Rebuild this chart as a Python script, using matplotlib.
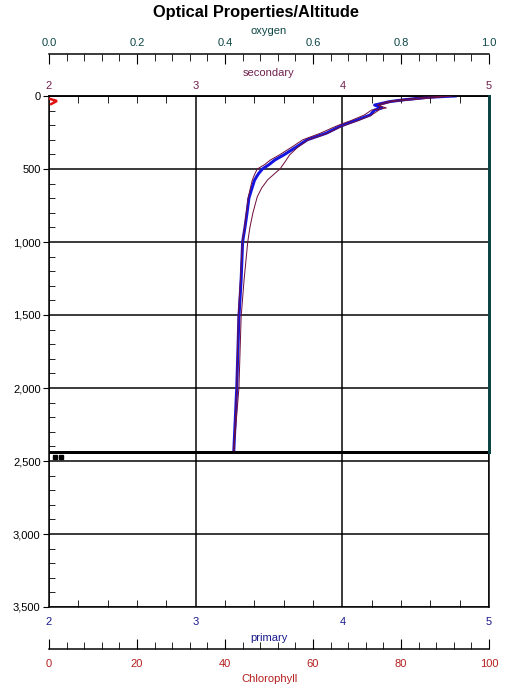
import matplotlib
matplotlib.use("Agg")
import matplotlib.pyplot as plt
from matplotlib.ticker import MultipleLocator, FuncFormatter

plt.rcParams['font.family'] = ['Liberation Sans', 'DejaVu Sans']

# ---------------- data ----------------
primary_depth = [0, 9, 27, 39, 62, 82, 96, 130, 168, 190, 210, 255, 300, 347, 404, 438,
                 470, 500, 530, 553, 580, 644, 700, 802, 900, 1000, 1260, 1513, 2000, 2430]
primary_vals = [4.77, 4.58, 4.41, 4.32, 4.22, 4.27, 4.22, 4.19, 4.09, 4.03, 3.98, 3.89,
                3.76, 3.69, 3.60, 3.54, 3.50, 3.455, 3.43, 3.415, 3.40, 3.38, 3.363,
                3.35, 3.336, 3.32, 3.31, 3.295, 3.28, 3.26]

secondary_down_depth = [0, 9, 27, 39, 62, 82, 96, 130, 168, 190, 210, 255, 300, 347, 404,
                        438, 470, 500, 530, 553, 580, 644, 700, 802, 900, 1000, 1260, 1513,
                        2000, 2430]
secondary_down_vals = [4.72, 4.55, 4.38, 4.30, 4.24, 4.30, 4.20, 4.15, 4.06, 4.00, 3.95,
                       3.85, 3.73, 3.66, 3.57, 3.51, 3.47, 3.42, 3.405, 3.395, 3.385,
                       3.37, 3.358, 3.345, 3.333, 3.318, 3.305, 3.29, 3.28, 3.26]

secondary_up_depth = [2430, 2000, 1513, 1260, 1000, 900, 802, 690, 630, 575, 530, 500,
                      450, 404, 347, 300, 255, 210, 168, 130, 96, 62, 39, 0]
secondary_up_vals = [3.26, 3.295, 3.31, 3.33, 3.355, 3.37, 3.39, 3.42, 3.45, 3.49, 3.54,
                     3.575, 3.61, 3.64, 3.70, 3.77, 3.90, 3.99, 4.11, 4.20, 4.25, 4.26,
                     4.34, 4.75]

chl_depth = [20, 34, 55]
chl_vals = [0.2, 1.8, 0.5]

oxygen_depth = [0, 2438]
oxygen_vals = [1.0, 1.0]

marker_depth = [2475, 2475]
marker_chl = [1.4, 2.8]

bottom_depth = 2438

depth_ticks = [0, 500, 1000, 1500, 2000, 2500, 3000, 3500]
primary_ticks = [2, 3, 4, 5]
oxygen_ticks = [0.0, 0.2, 0.4, 0.6, 0.8, 1.0]
chl_ticks = [0, 20, 40, 60, 80, 100]

# ---------------- colours ----------------
c_oxy = '#0d4545'
c_sec = '#70204f'
c_pri = '#1a1a8c'
c_chl = '#b51f1f'
c_blue = '#1414e0'
c_maroon = '#6e1040'

W, H = 514, 684
fig = plt.figure(figsize=(W / 100, H / 100), dpi=100)
L, R, T, B = 49, 489, 96, 607
ax = fig.add_axes([L / W, 1 - B / H, (R - L) / W, (B - T) / H])
ax.set_xlim(2, 5)
ax.set_ylim(3500, 0)

px = 72 / 100  # one pixel in points

for s in ax.spines.values():
    s.set_linewidth(1.5 * px)
ax.set_xticks(primary_ticks)
ax.xaxis.set_minor_locator(MultipleLocator(0.2))
ax.set_yticks(depth_ticks)
ax.yaxis.set_minor_locator(MultipleLocator(100))
ax.yaxis.set_major_formatter(FuncFormatter(lambda v, p: f"{int(v):,}"))
ax.xaxis.set_major_formatter(FuncFormatter(lambda v, p: f"{int(v)}"))
ax.grid(True, which='major', color='black', linewidth=1.5 * px)
ax.set_axisbelow(True)
ax.tick_params(axis='x', which='both', direction='in', top=False, bottom=True,
               labelsize=8, labelcolor=c_pri, pad=7)
ax.tick_params(axis='x', which='major', length=0)
ax.tick_params(axis='x', which='minor', length=5)
ax.tick_params(axis='y', which='major', direction='out', length=4.5, pad=1.5,
               labelsize=8, right=False)
ax.tick_params(axis='y', which='minor', direction='in', length=4.5, right=False)
ax.set_xlabel('primary', color=c_pri, fontsize=8, labelpad=4.5)

# primary data
ax.plot(primary_vals, primary_depth, color=c_blue, linewidth=3 * px, zorder=3,
        solid_joinstyle='round')
ax.axhline(bottom_depth, color='black', linewidth=3 * px, zorder=4)

# secondary axis (top)
ax_sec = ax.twiny()
ax_sec.set_xlim(2, 5)
ax_sec.set_ylim(3500, 0)
ax_sec.patch.set_visible(False)
for s in ax_sec.spines.values():
    s.set_visible(False)
ax_sec.spines['top'].set_visible(True)
ax_sec.spines['top'].set_linewidth(1.5 * px)
ax_sec.set_xticks(primary_ticks)
ax_sec.xaxis.set_minor_locator(MultipleLocator(0.2))
ax_sec.xaxis.set_major_formatter(FuncFormatter(lambda v, p: f"{int(v)}"))
ax_sec.tick_params(axis='x', which='both', direction='in', labelsize=8,
                   labelcolor=c_sec, pad=3.5)
ax_sec.tick_params(axis='x', which='major', length=0)
ax_sec.tick_params(axis='x', which='minor', length=5)
ax_sec.set_xlabel('secondary', color=c_sec, fontsize=8, labelpad=4)
ax_sec.plot(secondary_down_vals, secondary_down_depth, color=c_maroon,
            linewidth=1 * px, zorder=3)
ax_sec.plot(secondary_up_vals, secondary_up_depth, color=c_maroon,
            linewidth=1 * px, zorder=3)

# oxygen axis (top, outward)
ax_oxy = ax.twiny()
ax_oxy.set_xlim(0, 1)
ax_oxy.set_ylim(3500, 0)
ax_oxy.patch.set_visible(False)
for s in ax_oxy.spines.values():
    s.set_visible(False)
ax_oxy.spines['top'].set_visible(True)
ax_oxy.spines['top'].set_position(('outward', 42 * px))
ax_oxy.spines['top'].set_linewidth(1.5 * px)
ax_oxy.set_xticks(oxygen_ticks)
ax_oxy.xaxis.set_minor_locator(MultipleLocator(0.04))
ax_oxy.xaxis.set_major_formatter(FuncFormatter(lambda v, p: f"{v:.1f}"))
ax_oxy.tick_params(axis='x', which='both', direction='in', labelsize=8,
                   labelcolor=c_oxy, pad=4)
ax_oxy.tick_params(axis='x', which='major', length=7)
ax_oxy.tick_params(axis='x', which='minor', length=5)
ax_oxy.set_xlabel('oxygen', color=c_oxy, fontsize=8, labelpad=3.5)
ax_oxy.plot(oxygen_vals, oxygen_depth, color=c_oxy, linewidth=3 * px,
            clip_on=False, zorder=3)

# chlorophyll axis (bottom, outward)
ax_chl = ax.twiny()
ax_chl.set_xlim(0, 100)
ax_chl.set_ylim(3500, 0)
ax_chl.patch.set_visible(False)
for s in ax_chl.spines.values():
    s.set_visible(False)
ax_chl.spines['bottom'].set_visible(True)
ax_chl.spines['bottom'].set_position(('outward', 42 * px))
ax_chl.spines['bottom'].set_linewidth(1.5 * px)
ax_chl.xaxis.set_ticks_position('bottom')
ax_chl.xaxis.set_label_position('bottom')
ax_chl.set_xticks(chl_ticks)
ax_chl.xaxis.set_minor_locator(MultipleLocator(4))
ax_chl.tick_params(axis='x', which='both', direction='in', top=False, bottom=True,
                   labeltop=False, labelbottom=True, labelsize=8,
                   labelcolor=c_chl, pad=7)
ax_chl.tick_params(axis='x', which='major', length=7)
ax_chl.tick_params(axis='x', which='minor', length=5)
ax_chl.set_xlabel('Chlorophyll', color=c_chl, fontsize=8, labelpad=4)
ax_chl.plot(chl_vals, chl_depth, color='#e01010', linewidth=2.5 * px, zorder=3,
            solid_joinstyle='miter')
ax_chl.plot(marker_chl, marker_depth, linestyle='none', marker='s', color='black',
            markersize=3.3, zorder=5)

fig.text(0.498, 1 - 12 / H, 'Optical Properties/Altitude', ha='center', va='center',
         fontsize=11.8, fontweight='bold')

fig.savefig('out.png', dpi=100, facecolor='white')
